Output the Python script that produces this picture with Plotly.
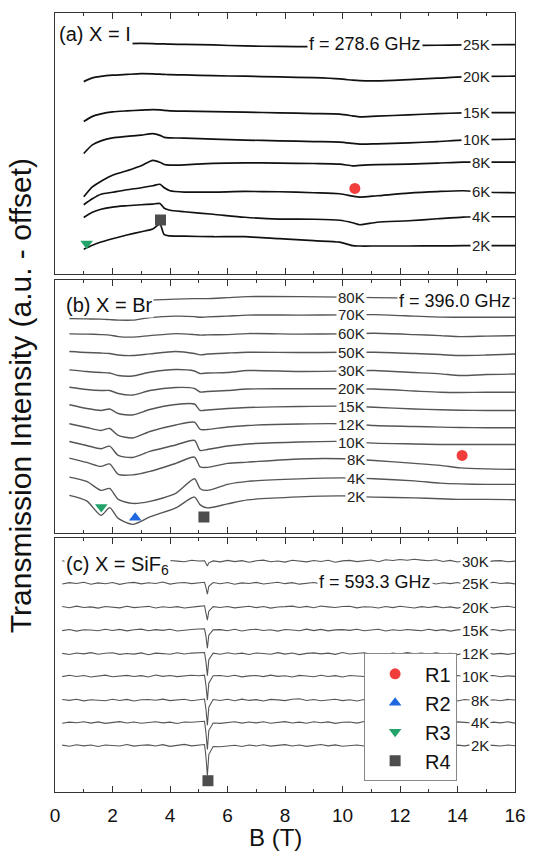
import numpy as np
import plotly.graph_objects as go

FONT = "Arial, Liberation Sans, sans-serif"

# ---------------- (a) X = I, f = 278.6 GHz ----------------
B_a = [1.0, 1.3, 1.6, 2.0, 2.5, 3.0, 3.4, 3.65, 3.8, 4.0, 4.5, 5.5,
       6.6, 7.8, 9.0, 9.9, 10.35, 10.6, 11.2, 12.3, 13.3, 14.2, 15.0, 16.0]
temps_a = ["25K", "20K", "15K", "10K", "8K", "6K", "4K", "2K"]
a_25K = [229, 229.5, 230, 230, 230.3, 230.5, 230.3, 230, 230, 229.8, 229.5, 229,
         228, 227.5, 227.3, 227.3, 227.2, 227.3, 227.7, 228.4, 228.7, 229, 229.2, 229.3]
a_20K = [192.3, 196, 197.5, 198.7, 199.5, 200.2, 200, 199.7, 199.5, 199.2, 199, 198.2,
         197.7, 197, 196.2, 195, 193.7, 193.2, 193, 194.3, 195.7, 197, 197.5, 197.7]
a_15K = [152.3, 157.5, 160, 162, 163, 163.7, 164.3, 164, 163.5, 163, 162.7, 162.3,
         161.7, 161, 160.3, 159.7, 158, 157, 157.7, 159, 160.2, 161, 161.2, 161.3]
a_10K = [120.3, 129, 133, 136, 137.5, 138.7, 140.2, 138.5, 136.5, 136, 135.7, 134.7,
         133.8, 133, 132.3, 131.8, 130.5, 129.7, 130, 131, 132.3, 133.7, 134.2, 134.7]
a_8K = [77, 87, 92.5, 98.5, 103, 108, 113.5, 111.5, 109.3, 108.7, 109, 110.5,
        111, 110.7, 110.3, 109.7, 108, 108.5, 109.2, 109.7, 110.7, 111.7, 111.7, 111.7]
a_6K = [69, 75, 79.5, 81.5, 84, 86, 88, 89.5, 86, 83, 81.7, 81.7,
        82.3, 82, 81, 80, 77.7, 76.7, 78, 80.7, 82.2, 83, 81.5, 81]
a_4K = [56.3, 61.5, 64.5, 66.7, 68, 69, 69.7, 70.3, 65.5, 63.5, 62, 59.5,
        56.5, 54.7, 54.5, 53.5, 51, 49, 51.5, 53, 55, 56.7, 57, 57]
a_2K = [24.5, 28.5, 31.7, 35, 38.7, 42, 44.7, 49.5, 39, 37.8, 37.5, 37,
        37, 35, 33, 31.5, 28, 27.7, 27.7, 27.7, 27.8, 28, 28, 28]
curves_a = [a_25K, a_20K, a_15K, a_10K, a_8K, a_6K, a_4K, a_2K]

# ---------------- (b) X = Br, f = 396.0 GHz ----------------
B_b = [0.5, 1.1, 1.6, 1.9, 2.2, 2.7, 3.3, 4.2, 4.85, 5.05, 5.3, 6.0,
       6.7, 8.5, 10.0, 11.1, 12.5, 13.4, 14.1, 15.0, 16.0]
temps_b = ["80K", "70K", "60K", "50K", "30K", "20K", "15K", "12K", "10K", "8K", "4K", "2K"]
b_80K = [233, 233, 233, 232.5, 232.5, 233, 233.5, 234.5, 235, 235, 235, 236,
         237, 237, 236.5, 236, 235.5, 235.5, 235.3, 235.3, 235.3]
b_70K = [215, 214.7, 214.5, 214, 213.5, 213.5, 216, 217.5, 217, 216.3, 216.7, 217.5,
         218.5, 218.5, 218.7, 219, 217.5, 216.5, 216.3, 216.3, 216.3]
b_60K = [199.7, 199.5, 199, 198.5, 197, 196.5, 198, 200, 199, 198.5, 198.7, 199,
         200, 199.5, 199.7, 200.3, 199, 198, 197, 197.5, 198]
b_50K = [182, 181, 180.5, 180, 178.5, 178, 179.7, 182, 180, 178.7, 179.5, 180.5,
         181.3, 181, 181.3, 181.3, 180, 179, 178, 178.5, 179.5]
b_30K = [163.7, 162, 161, 160.5, 158, 157.5, 161.3, 164, 162.5, 160, 160.5, 161,
         163, 162, 162.5, 163, 161, 159.7, 158, 159, 159.5]
b_20K = [146.3, 144, 143, 143, 140, 138.5, 143, 146, 145, 141.5, 142, 143,
         144.5, 144.7, 144.7, 144.5, 142.5, 141.3, 141, 141.3, 141.3]
b_15K = [128.7, 125, 123, 124.5, 120, 118.5, 124, 129, 129.5, 123, 123.5, 125,
         126, 127, 127.3, 126.3, 124.5, 123.7, 123.3, 123, 123]
b_12K = [109.7, 106, 103, 105, 98, 95.5, 102, 108.5, 111.3, 104, 104, 106.5,
         108, 109.5, 109.7, 108, 107, 106.3, 106, 105.7, 105.7]
b_10K = [92, 88, 84.7, 87.3, 78, 76, 82, 88.5, 93, 83, 84, 87.5,
         89.5, 91.5, 92, 90.3, 89.5, 89, 89, 89, 89]
b_8K = [75.3, 71, 67, 69.5, 59, 58.5, 62, 70, 76.3, 66.5, 66, 70,
        71.3, 74.5, 74.7, 73, 70, 68, 65.5, 64.5, 64]
b_4K = [56.3, 52, 43, 45, 34, 30, 32, 40, 54.7, 44.7, 43, 49,
        52, 54.5, 55.5, 54.7, 52.5, 50.3, 49.5, 49, 49]
b_2K = [38, 32.5, 18, 25.7, 15, 9, 16.5, 25.5, 36.3, 28.5, 25.5, 29.5,
        33.5, 36.5, 37.5, 36.3, 35.5, 34.7, 34, 34, 33.7]
curves_b = [b_80K, b_70K, b_60K, b_50K, b_30K, b_20K, b_15K, b_12K, b_10K, b_8K, b_4K, b_2K]

# ---------------- (c) X = SiF6, f = 593.3 GHz ----------------
# field grid: 0.25 T steps plus extra samples through the R4 dip
B_c = np.sort(np.concatenate([np.arange(0.25, 16.001, 0.25), [5.2, 5.3, 5.35]]))
temps_c = ["30K", "25K", "20K", "15K", "12K", "10K", "8K", "4K", "2K"]
base_c = [231, 209, 185, 162, 138.5, 116, 92, 69.5, 46.5]
c_30K = [0.5, -0.8, 0.9, -0.4, 1.2, -0.6, 0.3, 1.0, -0.9, 0.6, -0.2, 1.1, -0.7, 0.4, -1.0, 0.8, 0.2, -0.5, 1.0, 0.3,
         0.6, -1.8, -4.8, -1.5, 0.4,
         -0.6, 0.9, -0.3, 0.7, -1.0, 0.5, 1.2, -0.4, 0.3, -0.8, 1.0, 0.1, -0.6, 0.8, -0.2, 1.1, -0.9, 0.4, 0.9, -0.3,
         0.6, 1.3, -0.5, 1.5, 0.8, 1.8, 1.0, 2.0, 1.2, 0.5, 1.6, -0.2, 0.9, -0.7, 0.6, -0.3, 1.0, -0.8, 0.4, 0.7, -0.5, 0.2]
c_25K = [-0.7, 0.6, -0.2, 1.0, -0.9, 0.4, -0.5, 0.8, -1.1, 0.3, 0.9, -0.6, 0.5, -0.3, 1.2, -0.8, 0.2, 0.7, -0.4, 0.5,
         1.0, -4.0, -11.0, -3.0, 0.8,
         -0.5, 0.7, -1.0, 0.4, -0.2, 0.9, -0.7, 0.3, 1.0, -0.4, 0.6, -0.9, 0.2, 0.8, -0.6, 0.4, -0.3, 1.1, -0.8, 0.5,
         -1.0, 0.3, 0.7, -0.5, 0.2, 0.9, -0.6, 0.4, -0.2, 1.0, -0.7, 0.5, -0.4, 0.8, -0.9, 0.3, 0.6, -0.5, 1.0, -0.3, 0.4, -0.6]
c_20K = [0.8, -0.5, 1.1, -0.3, 0.4, -0.9, 0.7, 0.2, -0.6, 1.0, -0.4, 0.3, 0.9, -0.8, 0.5, -0.2, 0.6, -0.7, 0.4, 0.9,
         1.5, -5.0, -13.0, -4.0, 0.6,
         -0.3, 0.8, -0.6, 0.5, 1.0, -0.4, 0.7, -0.9, 0.3, 0.6, 1.1, -0.2, 0.9, -0.5, 1.2, 0.4, -0.3, 0.8, 1.0, -0.6,
         0.5, 0.2, -0.8, 0.7, -0.4, 1.0, 0.3, -0.7, 0.6, -0.2, 0.9, -0.5, 0.4, -0.9, 0.7, 0.2, -0.4, 0.8, -0.6, 0.5, 1.0, -0.3]
c_15K = [-0.4, 0.7, -0.9, 0.5, 0.2, -0.6, 1.0, -0.3, 0.8, -0.7, 0.4, 1.1, -0.5, 0.6, -0.2, 0.9, -0.8, 0.3, 0.7, 1.2,
         1.4, -6.0, -18.0, -5.0, 0.3,
         0.6, -0.5, 0.9, -0.8, 0.4, 1.0, -0.3, 0.5, -0.9, 0.7, 0.2, -0.6, 1.1, -0.4, 0.8, -0.7, 0.3, 0.6, -0.2, 0.9,
         -0.5, 0.4, 1.0, -0.8, 0.5, -0.3, 0.7, 0.1, -0.6, 0.9, -0.4, 0.6, -0.9, 0.3, 0.8, -0.5, 0.4, -0.2, 0.7, -0.7, 0.5, 0.2]
c_12K = [0.3, -0.8, 0.6, -0.2, 1.0, -0.6, 0.4, 0.9, -0.7, 0.2, -0.4, 0.8, -1.0, 0.5, 0.1, -0.5, 0.9, -0.3, 0.6, 0.8,
         1.2, -8.0, -22.0, -6.0, 0.5,
         -0.6, 0.9, -0.3, 0.5, -0.8, 0.7, 0.2, -0.5, 1.0, -0.4, 0.6, -0.9, 0.3, 0.8, -0.2, 0.5, -0.7, 1.1, -0.3, 0.4,
         0.9, -0.6, 0.2, -0.8, 0.7, -0.4, 1.0, -0.2, 0.5, -0.6, 0.8, -0.3, 0.4, -0.9, 0.6, 0.2, -0.5, 0.9, -0.4, 0.3, -0.7, 0.5]
c_10K = [-0.5, 0.9, -0.3, 0.6, -0.9, 0.4, 1.0, -0.6, 0.2, 0.8, -0.4, 0.5, -0.8, 1.1, -0.2, 0.6, -0.5, 0.3, 0.9, 0.4,
         1.0, -9.0, -24.0, -7.0, 0.4,
         0.7, -0.4, 0.9, -0.7, 0.3, 0.6, -0.5, 1.0, -0.2, 0.4, -0.9, 0.8, 0.1, -0.6, 0.9, -0.3, 0.5, -0.8, 0.7, 0.2,
         -0.4, 1.0, -0.6, 0.3, 0.8, -0.5, 0.6, -0.2, 0.9, -0.7, 0.4, 0.2, -0.8, 0.6, -0.3, 1.0, -0.5, 0.4, 0.7, -0.6, 0.3, -0.2]
c_8K = [0.6, -0.3, 0.8, -0.7, 0.4, 0.1, -0.6, 0.9, -0.4, 0.7, -0.9, 0.3, 0.6, -0.2, 1.0, -0.5, 0.4, 0.8, -0.6, 0.5,
        1.1, -9.0, -25.0, -7.0, 0.6,
        -0.4, 0.8, -0.6, 1.0, -0.3, 0.5, -0.8, 0.7, 0.2, -0.5, 0.9, 1.3, -0.4, 0.6, -0.7, 0.3, 0.8, -0.5, 0.4, -0.9,
        0.6, 0.2, -0.3, 0.9, -0.6, 0.5, -0.2, 0.8, -0.7, 0.4, 1.0, -0.4, 0.3, -0.8, 0.6, -0.2, 0.9, -0.5, 0.3, -0.6, 0.7, 0.1]
c_4K = [-0.6, 0.5, -0.2, 0.9, -0.5, 0.7, -0.8, 0.3, 1.0, -0.4, 0.6, -0.7, 0.2, 0.8, -0.3, 0.5, -0.9, 0.6, 0.3, 1.0,
        1.3, -10.0, -27.0, -8.0, -0.4,
        -0.8, 0.4, 0.9, -0.5, 0.6, -0.3, 0.8, -0.7, 0.2, 1.0, -0.4, 0.5, -0.6, 0.9, -0.2, 0.7, -0.8, 0.4, 0.6, -0.5,
        1.1, -0.3, 0.5, -0.7, 0.3, 0.8, -0.6, 0.4, -0.2, 0.9, -0.5, 0.6, -0.9, 0.7, 0.2, -0.4, 1.0, -0.6, 0.5, -0.3, 0.8, -0.5]
c_2K = [0.4, -0.7, 0.8, -0.3, 0.5, -0.9, 0.6, 0.2, -0.5, 1.0, -0.6, 0.3, 0.7, -0.4, 0.9, -0.8, 0.5, 1.2, -0.3, 0.6,
        1.0, -11.0, -30.0, -9.0, -1.0,
        -1.2, -0.6, 0.3, -0.9, 0.5, -0.4, 0.8, -0.6, 0.2, 0.9, -0.5, 0.6, -0.8, 0.4, 1.0, -0.3, 0.7, -0.7, 0.3, 0.6,
        -0.4, 0.9, -0.6, 0.5, -0.2, 0.8, -0.9, 0.4, 0.7, -0.5, 0.3, 1.0, -0.6, 0.4, -0.3, 0.9, -0.7, 0.5, 0.2, -0.4, 0.6, -0.2]
dev_c = [c_30K, c_25K, c_20K, c_15K, c_12K, c_10K, c_8K, c_4K, c_2K]

# ---------------- resonance markers (B, intensity) ----------------
res_names = ["R1", "R2", "R3", "R4"]
res_symbols = ["circle", "triangle-up", "triangle-down", "square"]
res_colors = ["#f23d3d", "#1f68e0", "#22a36a", "#4d4d4d"]
res_a = {"R1": (10.43, 85.3), "R3": (1.1, 30.3), "R4": (3.67, 53.7)}
res_b = {"R1": (14.16, 78.0), "R2": (2.79, 15.7), "R3": (1.61, 26.3), "R4": (5.18, 16.3)}
res_c = {"R4": (5.32, 11.3)}

fig = go.Figure()

# panel a curves
for t, ys in zip(temps_a, curves_a):
    fig.add_trace(go.Scatter(x=B_a, y=ys, mode="lines", xaxis="x", yaxis="y",
                             line=dict(color="#111111", width=1.7, shape="spline", smoothing=0.7),
                             showlegend=False, hoverinfo="skip"))
# panel b curves
for t, ys in zip(temps_b, curves_b):
    fig.add_trace(go.Scatter(x=B_b, y=ys, mode="lines", xaxis="x2", yaxis="y2",
                             line=dict(color="#555555", width=1.4, shape="spline", smoothing=0.7),
                             showlegend=False, hoverinfo="skip"))
# panel c curves
for t, b0, dv in zip(temps_c, base_c, dev_c):
    fig.add_trace(go.Scatter(x=B_c, y=b0 + np.array(dv), mode="lines", xaxis="x3", yaxis="y3",
                             line=dict(color="#555555", width=1.1),
                             showlegend=False, hoverinfo="skip"))

# resonance markers; each name appears once in the legend
shown = set()
for res, xa, ya in [(res_a, "x", "y"), (res_b, "x2", "y2"), (res_c, "x3", "y3")]:
    for name, sym, col in zip(res_names, res_symbols, res_colors):
        if name not in res:
            continue
        bx, by = res[name]
        fig.add_trace(go.Scatter(x=[bx], y=[by], mode="markers", xaxis=xa, yaxis=ya,
                                 name=name, legendgroup=name, showlegend=name not in shown,
                                 legendrank=res_names.index(name) + 1,
                                 marker=dict(symbol=sym, color=col, size=11, line=dict(width=0))))
        shown.add(name)

# temperature labels sitting on their curves
ann = []
lab_font = dict(family=FONT, size=15, color="#222222")
for t, ys in zip(temps_a, curves_a):
    ann.append(dict(x=15.2, y=float(np.interp(14.7, B_a, ys)), xref="x", yref="y", text=t,
                    showarrow=False, xanchor="right", yanchor="middle", bgcolor="white",
                    borderpad=1, font=lab_font))
for t, ys in zip(temps_b, curves_b):
    ann.append(dict(x=10.85, y=float(np.interp(10.4, B_b, ys)), xref="x2", yref="y2", text=t,
                    showarrow=False, xanchor="right", yanchor="middle", bgcolor="white",
                    borderpad=1, font=lab_font))
for t, b0 in zip(temps_c, base_c):
    ann.append(dict(x=15.15, y=b0, xref="x3", yref="y3", text=t,
                    showarrow=False, xanchor="right", yanchor="middle", bgcolor="white",
                    borderpad=1, font=lab_font))

# panel titles and frequencies
big = dict(family=FONT, size=20, color="#111111")
freq = dict(family=FONT, size=18, color="#111111")
ann += [
    dict(x=0.07, y=240, xref="x", yref="y", text="(a) X = I", showarrow=False,
         xanchor="left", yanchor="middle", bgcolor="white", font=big),
    dict(x=8.75, y=230, xref="x", yref="y", text="f = 278.6 GHz", showarrow=False,
         xanchor="left", yanchor="middle", bgcolor="white", font=freq),
    dict(x=0.3, y=229, xref="x2", yref="y2", text="(b) X = Br", showarrow=False,
         xanchor="left", yanchor="middle", bgcolor="white", font=big),
    dict(x=11.9, y=233, xref="x2", yref="y2", text="f = 396.0 GHz", showarrow=False,
         xanchor="left", yanchor="middle", bgcolor="white", font=freq),
    dict(x=0.3, y=227, xref="x3", yref="y3", text="(c) X = SiF<sub>6</sub>", showarrow=False,
         xanchor="left", yanchor="middle", bgcolor="white", font=big),
    dict(x=9.1, y=210, xref="x3", yref="y3", text="f = 593.3 GHz", showarrow=False,
         xanchor="left", yanchor="middle", bgcolor="white", font=freq),
    # axis titles
    dict(x=-0.0746, y=0.509, xref="paper", yref="paper", text="Transmission Intensity (a.u. - offset)",
         textangle=-90, showarrow=False, xanchor="center", yanchor="middle",
         font=dict(family=FONT, size=30, color="#111111")),
    dict(x=0.479, y=-0.059, xref="paper", yref="paper", text="B (T)", showarrow=False,
         xanchor="center", yanchor="middle", font=dict(family=FONT, size=24, color="#111111")),
]

xcommon = dict(range=[0, 16], showline=True, linecolor="#333333", linewidth=1, mirror="ticks",
               ticks="inside", ticklen=6, tickwidth=1, tickcolor="#333333", tick0=0, dtick=2,
               minor=dict(ticks="inside", ticklen=3, dtick=1, tickcolor="#333333", showgrid=False),
               showgrid=False, zeroline=False, fixedrange=True)
ycommon = dict(showline=True, linecolor="#333333", linewidth=1, mirror=True, ticks="",
               showticklabels=False, showgrid=False, zeroline=False, fixedrange=True)

fig.update_layout(
    width=538, height=858,
    margin=dict(l=55, r=14, t=12, b=66),
    paper_bgcolor="white", plot_bgcolor="white",
    font=dict(family=FONT, color="#111111"),
    xaxis=dict(xcommon, domain=[0, 1], anchor="y", showticklabels=False),
    xaxis2=dict(xcommon, domain=[0, 1], anchor="y2", showticklabels=False),
    xaxis3=dict(xcommon, domain=[0, 1], anchor="y3", showticklabels=True,
                tickfont=dict(family=FONT, size=19, color="#111111"), ticklabelstandoff=6),
    yaxis=dict(ycommon, domain=[0.66538, 1.0], anchor="x", range=[0, 261]),
    yaxis2=dict(ycommon, domain=[0.33205, 0.65769], anchor="x2", range=[0, 254]),
    yaxis3=dict(ycommon, domain=[0.0, 0.32564], anchor="x3", range=[0, 254]),
    legend=dict(x=0.672, y=0.178, xanchor="left", yanchor="top", bgcolor="white",
                bordercolor="#888888", borderwidth=1, font=dict(family=FONT, size=20, color="#111111"),
                itemwidth=50, traceorder="normal", tracegroupgap=0),
    annotations=ann,
)

fig.write_html("out.html")
